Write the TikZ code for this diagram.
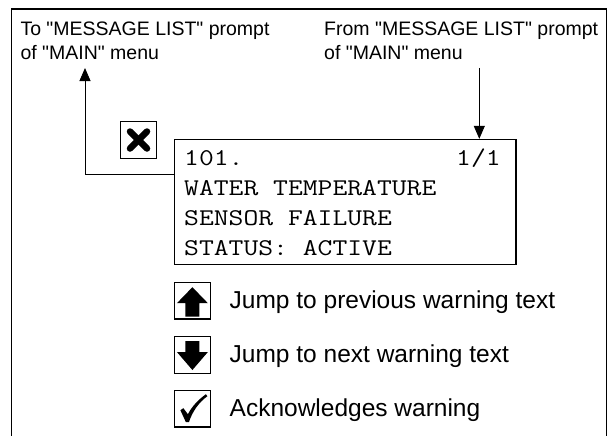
\documentclass[tikz,border=0pt]{standalone}
\usepackage{fontspec}
\setmainfont{Liberation Sans}[Ligatures=TeXOff]
\newfontfamily\monofnt{Latin Modern Mono}[FakeStretch=1.2]
\usetikzlibrary{arrows.meta}
\begin{document}
\begin{tikzpicture}[x=1pt,y=-1pt,
  lbl/.style={inner sep=0pt,anchor=base west,font=\fontsize{19.5}{24}\selectfont},
  lcd/.style={inner sep=0pt,anchor=base west,font=\monofnt\fontsize{24}{30}\selectfont},
  key/.style={inner sep=0pt,anchor=base west,font=\fontsize{24.5}{28}\selectfont},
  iconbox/.style={draw,line width=1.3pt,minimum size=36.5pt,inner sep=0pt},
  conn/.style={line width=0.9pt,-{Triangle[length=13pt,width=11pt]}},
  frame/.style={line width=1.6pt},
  glyph/.style={fill=black},
]
\useasboundingbox (0,0) rectangle (610,436);
% outer frame (open at the bottom)
\draw[frame] (11.5,436) -- (11.5,9) -- (606.5,9) -- (606.5,436);

% top labels
\node[lbl] (toA) at (20.3,35.7) {To "MESSAGE LIST" prompt};
\node[lbl] (toB) at (20.3,59.7) {of "MAIN" menu};
\node[lbl] (fromA) at (324,35.7) {From "MESSAGE LIST" prompt};
\node[lbl] (fromB) at (324,59.7) {of "MAIN" menu};

% display
\node[draw,line width=1.3pt,minimum width=341.5pt,minimum height=125pt,inner sep=0pt] (disp) at (345.25,202) {};
\node[lcd] (l1) at (184,165) {101.};
\node[lcd] (l1r) at (456,165) {1/1};
\node[lcd] (l2) at (184,195) {WATER TEMPERATURE};
\node[lcd] (l3) at (184,225) {SENSOR FAILURE};
\node[lcd] (l4) at (184,255) {STATUS: ACTIVE};

% cancel key
\node[iconbox] (cancel) at (138.5,140) {};
\draw[line width=6.5pt,line cap=round] ([shift={(-8.5,-8.5)}]cancel.center) -- ([shift={(8.5,8.5)}]cancel.center);
\draw[line width=6.5pt,line cap=round] ([shift={(8.5,-8.5)}]cancel.center) -- ([shift={(-8.5,8.5)}]cancel.center);

% connectors
\coordinate (toTip) at (85,68);
\coordinate (fromTail) at (479.3,68);
\draw[conn] (disp.west |- 0,174.3) -| (toTip);
\draw[conn] (fromTail) -- (fromTail |- disp.north);

% keys
\node[iconbox] (up) at (192.4,300.7) {};
\node[iconbox] (down) at (192.4,355) {};
\node[iconbox] (ack) at (192.4,408.7) {};
\fill[glyph,shift={(up.center)}] (0,-13.5) -- (15.5,2.5) -- (7,2.5) -- (7,16) -- (-7,16) -- (-7,2.5) -- (-15.5,2.5) -- cycle;
\fill[glyph,shift={(down.center)}] (0,15) -- (15.5,-3) -- (7,-3) -- (7,-14) -- (-7,-14) -- (-7,-3) -- (-15.5,-3) -- cycle;
\fill[glyph,shift={(ack.center)}] (-12,1.5) -- (-9,-0.5) -- (-4.5,5.5) .. controls (0,-3) and (6,-9) .. (13.5,-14.5) -- (15,-12.5) .. controls (6,-6) and (0,3) .. (-3.5,13.5) -- (-6.5,13.5) -- cycle;

\node[key] (upT) at (229.5,308) {Jump to previous warning text};
\node[key] (downT) at (229.5,362.3) {Jump to next warning text};
\node[key] (ackT) at (229.5,416) {Acknowledges warning};
\end{tikzpicture}
\end{document}
